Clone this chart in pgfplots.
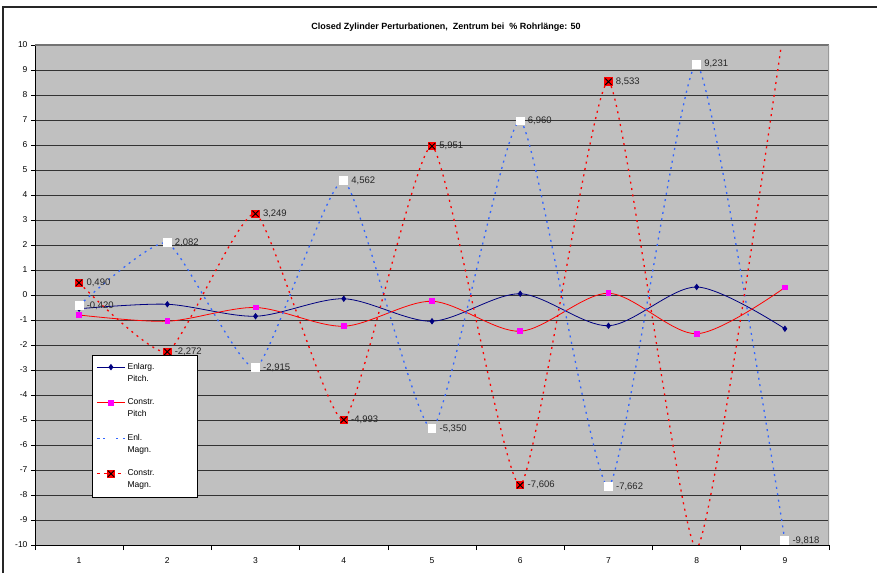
\documentclass[border=0pt]{standalone}
\usepackage{fontspec}
\setmainfont{Liberation Sans}
\usepackage{pgfplots}
\pgfplotsset{compat=1.18}
\usetikzlibrary{plotmarks}

\definecolor{plotgray}{HTML}{C0C0C0}
\definecolor{navyline}{HTML}{000080}
\definecolor{enlblue}{HTML}{3366FF}
\definecolor{pinkmark}{HTML}{FF00FF}

% red square marker with a black cross
\pgfdeclareplotmark{sqx}{%
  \pgfsetfillcolor{red}%
  \pgfpathrectangle{\pgfpoint{-\pgfplotmarksize}{-\pgfplotmarksize}}%
    {\pgfpoint{2\pgfplotmarksize}{2\pgfplotmarksize}}%
  \pgfusepath{fill}%
  \pgfsetstrokecolor{black}%
  \pgfsetlinewidth{0.9pt}%
  \pgfsetdash{}{0pt}%
  \pgfpathmoveto{\pgfpoint{-0.75\pgfplotmarksize}{-0.75\pgfplotmarksize}}%
  \pgfpathlineto{\pgfpoint{0.75\pgfplotmarksize}{0.75\pgfplotmarksize}}%
  \pgfpathmoveto{\pgfpoint{-0.75\pgfplotmarksize}{0.75\pgfplotmarksize}}%
  \pgfpathlineto{\pgfpoint{0.75\pgfplotmarksize}{-0.75\pgfplotmarksize}}%
  \pgfusepath{stroke}%
}

% two-line legend text
\newcommand{\twoline}[2]{\makebox[64pt][l]{#1}\\#2}

\begin{document}
\begin{tikzpicture}[x=1pt,y=1pt]
\useasboundingbox (0,0) rectangle (877,573);
\fill[white] (0,0) rectangle (877,573);
\draw[line width=1.5pt, black!85] (3,0) -- (3,566) -- (877,566);
\node[font=\bfseries\fontsize{9}{10}\selectfont] at (446,546)
  {Closed Zylinder Perturbationen,\ \ Zentrum bei\ \ \% Rohrlänge: 50};

\begin{axis}[
  at={(35pt,28pt)}, anchor=south west,
  width=794pt, height=500pt, scale only axis,
  xmin=0.5, xmax=9.5, ymin=-10, ymax=10,
  xtick={1,...,9},
  minor xtick={0.5,1.5,...,9.5},
  ytick={-10,-9,...,10},
  tick align=outside, tick pos=left,
  major tick length=4pt, minor tick length=5pt,
  x tick style={draw=none},
  minor x tick style={draw=black, line width=0.6pt},
  y tick style={black, line width=0.6pt},
  xticklabel style={yshift=-5pt},
  tick label style={font=\fontsize{8.5}{10}\selectfont},
  /pgf/number format/assume math mode=true,
  ymajorgrids,
  major grid style={draw=black!80, line width=0.9pt},
  axis background/.style={fill=plotgray},
  axis line style={draw=none},
  clip=true,
  legend image code/.code={%
    \draw[mark repeat=2,mark phase=2] plot coordinates {(0pt,6pt)(14pt,6pt)(28pt,6pt)};},
  legend style={
    at={(axis description cs:0.0718,0.38)}, anchor=north west,
    draw=black, line width=0.6pt, fill=white,
    font=\fontsize{8.5}{12}\selectfont,
    cells={anchor=west, align=left},
    row sep=12pt, inner xsep=4pt, inner ysep=6pt,
  },
  nodes near coords style={font=\fontsize{9.5}{11}\selectfont, anchor=west,
    xshift=6pt, inner sep=1pt, text=black!85},
]

% Enlarg. Pitch.
\addplot[navyline, line width=0.8pt, smooth, mark=diamond*, mark size=2.6pt,
  mark options={fill=navyline, draw=navyline}]
  coordinates {(1,-0.55)(2,-0.37)(3,-0.85)(4,-0.15)(5,-1.05)(6,0.05)(7,-1.23)(8,0.32)(9,-1.35)};
\addlegendentry{\twoline{Enlarg.}{Pitch.}}

% Constr. Pitch
\addplot[red, line width=0.8pt, smooth, mark=square*, mark size=2.4pt,
  mark options={fill=pinkmark, draw=pinkmark}]
  coordinates {(1,-0.8)(2,-1.05)(3,-0.5)(4,-1.25)(5,-0.25)(6,-1.45)(7,0.07)(8,-1.55)(9,0.3)};
\addlegendentry{\twoline{Constr.}{Pitch}}

% Enl. Magn. with value labels
\addplot[enlblue, line width=1.3pt, smooth, tension=0.3, dash pattern=on 2pt off 4.5pt,
  mark=square*, mark size=3.8pt, mark options={solid, fill=white, draw=white},
  nodes near coords, point meta=explicit,
  /pgf/number format/.cd, use comma, fixed, precision=3, fixed zerofill, assume math mode=true]
  coordinates {(1,-0.420)[-0.420] (2,2.082)[2.082] (3,-2.915)[-2.915] (4,4.562)[4.562]
    (5,-5.350)[-5.350] (6,6.960)[6.960] (7,-7.662)[-7.662] (8,9.231)[9.231] (9,-9.818)[-9.818]};
\addlegendentry{\twoline{Enl.}{Magn.}}

% Constr. Magn. line (runs off the range at the end)
\addplot[red, line width=1.3pt, smooth, tension=0.3, dash pattern=on 2pt off 4.5pt, forget plot]
  coordinates {(1,0.490)(2,-2.272)(3,3.249)(4,-4.993)(5,5.951)(6,-7.606)(7,8.533)(8,-10.13)(9,11.0)};
% Constr. Magn. markers and labels inside the range
\addplot[only marks, mark=sqx, mark size=4.2pt, forget plot,
  nodes near coords, point meta=explicit,
  /pgf/number format/.cd, use comma, fixed, precision=3, fixed zerofill, assume math mode=true]
  coordinates {(1,0.490)[0.490] (2,-2.272)[-2.272] (3,3.249)[3.249] (4,-4.993)[-4.993]
    (5,5.951)[5.951] (6,-7.606)[-7.606] (7,8.533)[8.533]};
\addlegendimage{red, line width=1.3pt, dash pattern=on 3pt off 4pt, mark=sqx, mark size=4.2pt}
\addlegendentry{\twoline{Constr.}{Magn.}}

% frame of the plot area
\draw[black, line width=0.9pt] (rel axis cs:0,1) -- (rel axis cs:0,0) -- (rel axis cs:1,0);
\draw[black!55, line width=1.6pt] (rel axis cs:0,1) -- (rel axis cs:1,1);
\draw[black!40, line width=1.4pt] (rel axis cs:1,0) -- (rel axis cs:1,1);
\end{axis}
\end{tikzpicture}
\end{document}
